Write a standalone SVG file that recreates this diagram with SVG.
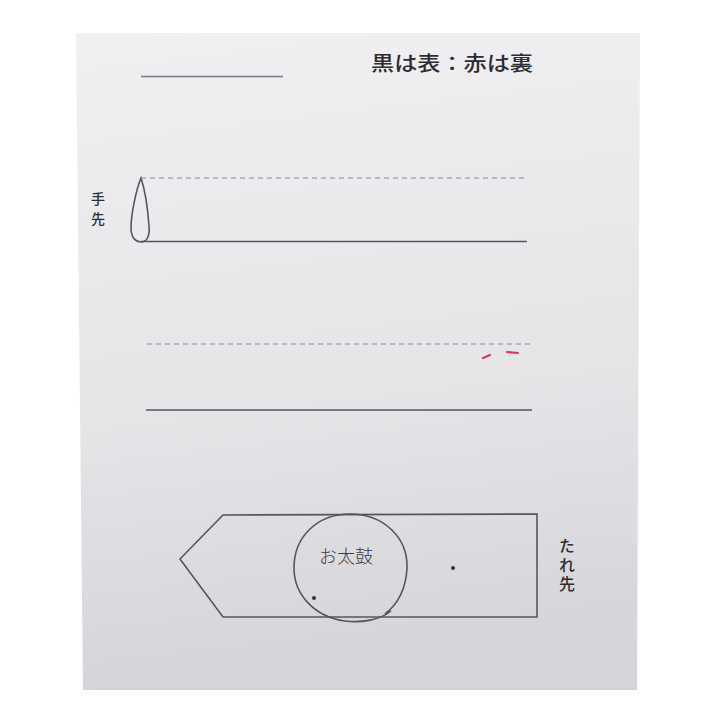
<svg xmlns="http://www.w3.org/2000/svg" width="720" height="720" viewBox="0 0 720 720">
<defs>
<linearGradient id="paper" x1="0" y1="0" x2="0.1" y2="1">
<stop offset="0" stop-color="#f0f0f2"/>
<stop offset="0.6" stop-color="#e5e5e8"/>
<stop offset="1" stop-color="#d5d5d9"/>
</linearGradient>
<style>
.ln{stroke:#55555d;stroke-width:1.6;fill:none}
.dash{stroke:#8a8a92;stroke-width:1.2;stroke-dasharray:5 4;fill:none}
.lbl{font-family:"Noto Sans CJK JP","Noto Sans",sans-serif;fill:#2c2c32;font-weight:500}
.hand{font-family:"Noto Sans CJK JP","Noto Sans",sans-serif;fill:#3a3a40;font-weight:300}
.red{stroke:#e0306a;stroke-width:2.2;stroke-linecap:round;fill:none}
</style>
</defs>
<rect width="720" height="720" fill="#ffffff"/>
<polygon points="76,33 640,33 637,690 83,690" fill="url(#paper)"/>
<g id="legend">
<line x1="141" y1="76.5" x2="283" y2="76.5" stroke="#7a7a82" stroke-width="1.4"/>
<text class="lbl" x="371" y="71" font-size="20" textLength="162" lengthAdjust="spacingAndGlyphs">黒は表：赤は裏</text>
</g>
<g id="tesaki">
<path class="ln" d="M141,178 C136,190 131,215 131,228 C131,238 136,242 141,242 C147,242 150,236 149,226 C148,212 145,190 141,178 Z"/>
<line class="dash" x1="141" y1="178" x2="527" y2="178"/>
<line class="ln" x1="141" y1="241.5" x2="527" y2="241.5"/>
<text class="lbl" x="98" y="192" font-size="14" writing-mode="vertical-rl" letter-spacing="6">手先</text>
</g>
<g id="middle">
<line class="dash" x1="147" y1="344" x2="530" y2="344"/>
<line class="ln" x1="146" y1="410" x2="532" y2="410"/>
<path class="red" d="M483,358 L490,355"/>
<path class="red" d="M507,352 L518,353"/>
</g>
<g id="tare">
<polygon class="ln" points="223,515 537,514 537,617 223,617 180,559"/>
<path class="ln" stroke-width="1.3" d="M391,611 C380,620 362,623 345,621 C315,617 294,595 294,568 C294,536 318,514 350,514 C384,514 408,538 407,568 C406,588 398,604 385,614"/>
<text class="hand" x="346" y="563" font-size="18" text-anchor="middle">お太鼓</text>
<circle cx="314" cy="598" r="2" fill="#333"/>
<circle cx="453" cy="568" r="2" fill="#333"/>
<text class="lbl" x="567" y="538" font-size="16" writing-mode="vertical-rl" letter-spacing="3">たれ先</text>
</g>
</svg>
